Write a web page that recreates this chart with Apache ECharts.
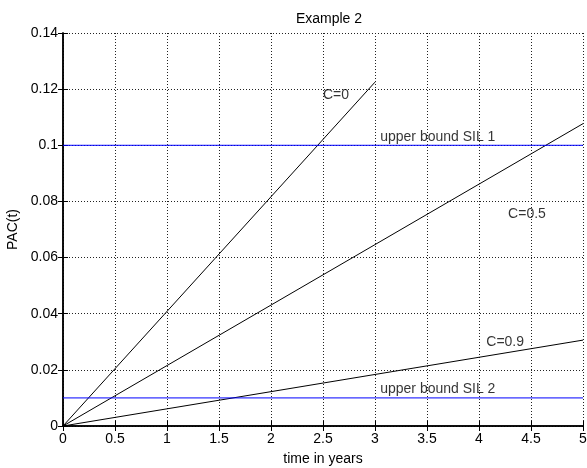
<!DOCTYPE html>
<html>
<head>
<meta charset="utf-8">
<script src="https://cdn.jsdelivr.net/npm/echarts@6/dist/echarts.min.js"></script>
<style>
    html, body { margin: 0; padding: 0; background: #fff; }
    #chart { width: 587px; height: 468px; }
</style>
</head>
<body>
<div id="chart"></div>
<script>
    // 曲线端点 (x, y)
    var c0Line = [[0, 0], [3, 0.1225]];
    var c05Line = [[0, 0], [5, 0.1077]];
    var c09Line = [[0, 0], [5, 0.0306]];
    // 上限
    var sil1 = [[0, 0.1], [5, 0.1]];
    var sil2 = [[0, 0.01], [5, 0.01]];
    // 文字标注
    var noteText = ['C=0', 'upper bound SIL 1', 'C=0.5', 'C=0.9', 'upper bound SIL 2'];
    var noteX = [2.50, 3.05, 4.28, 4.07, 3.05];
    var noteY = [0.1179, 0.1030, 0.0755, 0.0300, 0.0132];

    var font = 'Liberation Sans, Arial, sans-serif';
    var mychart = echarts.init(document.getElementById('chart'));

    function lineSeries(data, color) {
        return {
            type: 'line',
            data: data,
            symbol: 'none',
            silent: true,
            lineStyle: {color: color, width: 1},
            animation: false
        };
    }

    var notes = [];
    for (var i = 0; i < noteText.length; i++) {
        notes.push({value: [noteX[i], noteY[i]], name: noteText[i]});
    }

    var gridLine = {show: true, lineStyle: {color: '#222', type: [1, 2], width: 1}};

    var option = {
        backgroundColor: '#fff',
        animation: false,
        title: {
            text: 'Example 2',
            left: 324,
            top: 7,
            textAlign: 'center',
            textStyle: {fontFamily: font, fontSize: 14, fontWeight: 'normal', color: '#000'}
        },
        grid: {left: 63, top: 33, right: 4, bottom: 42, containLabel: false, outerBoundsMode: 'none'},
        xAxis: [{
            type: 'value',
            min: 0, max: 5, interval: 0.5,
            name: 'time in years',
            nameLocation: 'middle',
            nameGap: 26,
            nameTextStyle: {fontFamily: font, fontSize: 14, color: '#000'},
            axisLine: {lineStyle: {color: '#000', width: 1.5}},
            axisTick: {inside: true, length: 5, lineStyle: {color: '#000'}},
            axisLabel: {fontFamily: font, fontSize: 14, color: '#000', margin: 6},
            splitLine: gridLine
        }, {
            type: 'value', position: 'top',
            min: 0, max: 5, interval: 0.5,
            axisLine: {lineStyle: {color: '#000', width: 1.5}},
            axisTick: {inside: true, length: 5, lineStyle: {color: '#000'}},
            axisLabel: {show: false},
            splitLine: {show: false}
        }],
        yAxis: [{
            type: 'value',
            min: 0, max: 0.14, interval: 0.02,
            name: 'PAC(t)',
            nameLocation: 'middle',
            nameGap: 40,
            nameTextStyle: {fontFamily: font, fontSize: 14, color: '#000'},
            axisLine: {lineStyle: {color: '#000', width: 1.5}},
            axisTick: {inside: true, length: 5, lineStyle: {color: '#000'}},
            axisLabel: {fontFamily: font, fontSize: 14, color: '#000', margin: 5},
            splitLine: gridLine
        }, {
            type: 'value', position: 'right',
            min: 0, max: 0.14, interval: 0.02,
            axisLine: {lineStyle: {color: '#000', width: 1.5}},
            axisTick: {inside: true, length: 5, lineStyle: {color: '#000'}},
            axisLabel: {show: false},
            splitLine: {show: false}
        }],
        series: [
            lineSeries(c0Line, '#000'),
            lineSeries(c05Line, '#000'),
            lineSeries(c09Line, '#000'),
            lineSeries(sil1, '#0000ff'),
            lineSeries(sil2, '#0000ff'),
            {
                type: 'scatter',
                data: notes,
                symbolSize: 0,
                silent: true,
                label: {
                    show: true,
                    position: 'right',
                    distance: 0,
                    formatter: '{b}',
                    fontFamily: font,
                    fontSize: 14,
                    color: '#000',
                    textBorderWidth: 0
                }
            }
        ]
    };
    mychart.setOption(option);
</script>
</body>
</html>
